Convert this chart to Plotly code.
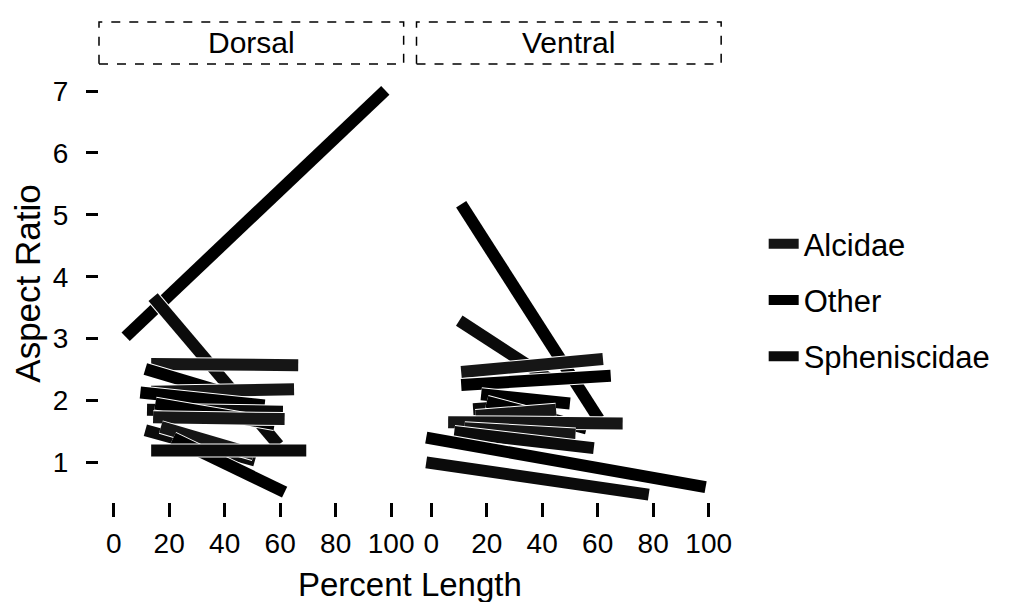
import plotly.graph_objects as go

# ---------------- data ----------------
groups = ["Alcidae", "Other", "Spheniscidae"]

x_ticks = [0, 20, 40, 60, 80, 100]
y_ticks = [1, 2, 3, 4, 5, 6, 7]

# Dorsal panel: each entry is one species segment (start -> end)
dorsal_x0 = [4.3, 14.2, 13.5, 11.4, 13.5, 9.6, 12.0, 15.0, 14.2, 11.4, 17.0, 21.4, 13.5]
dorsal_y0 = [3.03, 3.67, 2.59, 2.51, 2.14, 2.13, 1.85, 1.95, 1.73, 1.52, 1.57, 1.39, 1.19]
dorsal_x1 = [97.9, 59.4, 66.5, 48.0, 65.0, 54.4, 61.0, 58.0, 61.6, 50.9, 50.5, 61.6, 69.4]
dorsal_y1 = [7.01, 1.28, 2.57, 2.02, 2.18, 1.92, 1.82, 1.62, 1.70, 1.03, 1.13, 0.52, 1.19]
dorsal_group = ["Other", "Spheniscidae", "Alcidae", "Other", "Alcidae", "Other",
                "Spheniscidae", "Other", "Alcidae", "Spheniscidae", "Alcidae", "Other",
                "Spheniscidae"]

# Ventral panel
ventral_x0 = [10.8, 10.1, 10.8, 10.8, 15.1, 18.0, 20.0, 16.0, 6.1, 12.0, 8.3, -1.8, -1.8]
ventral_y0 = [5.17, 3.29, 2.46, 2.25, 1.86, 2.10, 1.98, 1.75, 1.65, 1.55, 1.49, 1.40, 1.00]
ventral_x1 = [60.4, 42.4, 61.9, 64.7, 48.6, 50.0, 56.0, 45.0, 69.0, 52.0, 58.6, 98.9, 78.4]
ventral_y1 = [1.70, 2.35, 2.67, 2.40, 1.97, 1.95, 1.55, 1.85, 1.63, 1.45, 1.23, 0.60, 0.48]
ventral_group = ["Other", "Spheniscidae", "Alcidae", "Other", "Spheniscidae",
                 "Other", "Other", "Alcidae", "Alcidae", "Alcidae", "Spheniscidae",
                 "Other", "Spheniscidae"]

# ---------------- style ----------------
FONT = "Liberation Sans, Arial, Helvetica, sans-serif"
colors = {"Alcidae": "#161616", "Other": "#000000", "Spheniscidae": "#0b0b0b"}
LW = 12
W, H = 1011, 602

fig = go.Figure()

# legend entries
for g in groups:
    fig.add_trace(go.Scatter(x=[None], y=[None], mode="lines", name=g,
                             legendgroup=g, showlegend=True,
                             line=dict(color=colors[g], width=LW),
                             xaxis="x", yaxis="y"))


def add_panel(x0s, y0s, x1s, y1s, gs, xa, ya):
    for a, b, c, d, g in zip(x0s, y0s, x1s, y1s, gs):
        # thin white edge under each bar, as in the print
        fig.add_trace(go.Scatter(x=[a, c], y=[b, d], mode="lines",
                                 line=dict(color="white", width=LW + 2),
                                 showlegend=False, hoverinfo="skip",
                                 legendgroup=g, xaxis=xa, yaxis=ya))
        fig.add_trace(go.Scatter(x=[a, c], y=[b, d], mode="lines", name=g,
                                 line=dict(color=colors[g], width=LW),
                                 showlegend=False, legendgroup=g,
                                 xaxis=xa, yaxis=ya))


add_panel(dorsal_x0, dorsal_y0, dorsal_x1, dorsal_y1, dorsal_group, "x", "y")
add_panel(ventral_x0, ventral_y0, ventral_x1, ventral_y1, ventral_group, "x2", "y2")

# panel geometry (pixels)
pL1, pR1 = 92, 400
pL2, pR2 = 413, 721
pT, pB = 57, 494
xr = [-5.3, 104.5]
yr = [0.36, 7.42]

common_x = dict(range=xr, tickmode="array", tickvals=x_ticks,
                ticktext=[str(v) for v in x_ticks],
                ticks="outside", ticklen=14, tickwidth=2.5, tickcolor="black",
                showline=False, showgrid=False, zeroline=False,
                tickfont=dict(family=FONT, size=28, color="black"),
                ticklabelstandoff=2)

fig.update_layout(
    width=W, height=H,
    margin=dict(l=0, r=0, t=0, b=0),
    paper_bgcolor="white", plot_bgcolor="white",
    font=dict(family=FONT, color="black"),
    xaxis=dict(domain=[pL1 / W, pR1 / W], anchor="y", **common_x),
    xaxis2=dict(domain=[pL2 / W, pR2 / W], anchor="y2", **common_x),
    yaxis=dict(domain=[1 - pB / H, 1 - pT / H], anchor="x", range=yr,
               tickmode="array", tickvals=y_ticks,
               ticktext=[str(v) for v in y_ticks],
               ticks="outside", ticklen=12, tickwidth=2.5, tickcolor="black",
               showline=False, showgrid=False, zeroline=False,
               tickfont=dict(family=FONT, size=28, color="black"),
               ticklabelstandoff=12,
               title=dict(text="Aspect Ratio", standoff=2,
                          font=dict(family=FONT, size=35, color="black"))),
    yaxis2=dict(domain=[1 - pB / H, 1 - pT / H], anchor="x2", range=yr,
                matches="y", showticklabels=False, ticks="",
                showline=False, showgrid=False, zeroline=False),
    legend=dict(x=764 / W, xanchor="left", y=1 - 292 / H, yanchor="middle",
                bgcolor="rgba(0,0,0,0)", borderwidth=0,
                traceorder="grouped", tracegroupgap=13, itemwidth=30,
                font=dict(family=FONT, size=31, color="black")),
    showlegend=True,
)

# facet strips
strip_top, strip_bot = 14, 56
for (l, r, label) in [(pL1, pR1, "Dorsal"), (pL2, pR2, "Ventral")]:
    fig.add_shape(type="rect", xref="paper", yref="paper",
                  x0=l / W, x1=r / W, y0=1 - strip_bot / H, y1=1 - strip_top / H,
                  line=dict(color="black", width=1.5, dash="dash"),
                  fillcolor="rgba(0,0,0,0)", layer="below")
    fig.add_annotation(x=(l + r) / 2 / W, y=1 - (strip_top + strip_bot) / 2 / H,
                       xref="paper", yref="paper", text=label, showarrow=False,
                       xanchor="center", yanchor="middle",
                       font=dict(family=FONT, size=30, color="black"))

# shared x-axis title
fig.add_annotation(x=(pL1 + pR2) / 2 / W, y=1 - 576 / H, xref="paper", yref="paper",
                   text="Percent Length", showarrow=False,
                   xanchor="center", yanchor="middle",
                   font=dict(family=FONT, size=33, color="black"))

fig.write_html("out.html")
